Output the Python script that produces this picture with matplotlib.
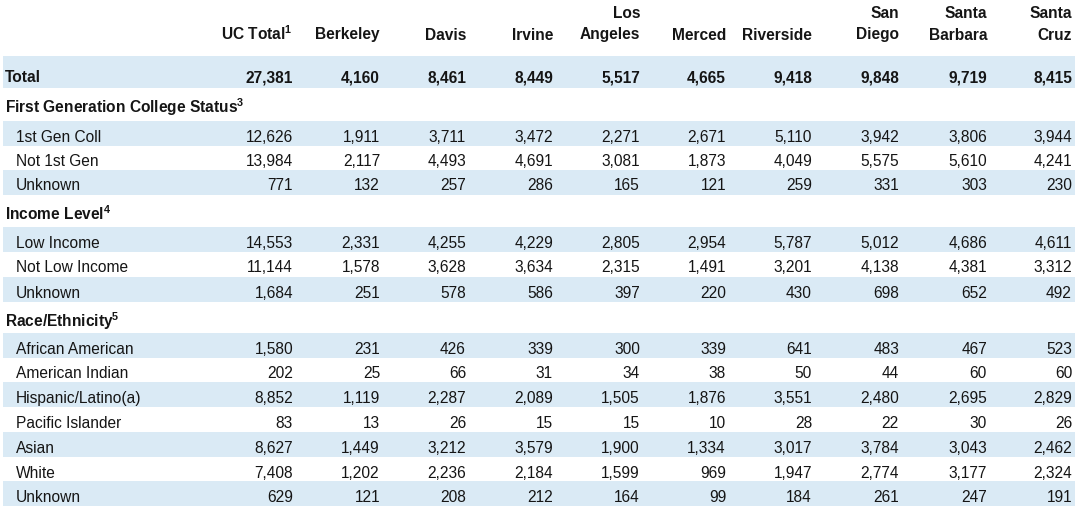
import matplotlib.pyplot as plt
from matplotlib.patches import Rectangle

plt.rcParams['font.family'] = ['Liberation Sans', 'DejaVu Sans']
plt.rcParams['mathtext.fontset'] = 'custom'
plt.rcParams['mathtext.rm'] = 'Liberation Sans'
plt.rcParams['mathtext.bf'] = 'Liberation Sans:bold'

# column headers (two lines each, first line may be empty)
campus_top = ['', '', '', '', 'Los', '', '', 'San', 'Santa', 'Santa']
campus_bottom = [r'UC Total$^{\mathbf{1}}$', 'Berkeley', 'Davis', 'Irvine', 'Angeles',
                 'Merced', 'Riverside', 'Diego', 'Barbara', 'Cruz']

total_row = [27381, 4160, 8461, 8449, 5517, 4665, 9418, 9848, 9719, 8415]

first_gen_title = r'First Generation College Status$^{\mathbf{3}}$'
first_gen_labels = ['1st Gen Coll', 'Not 1st Gen', 'Unknown']
first_gen = [
    [12626, 1911, 3711, 3472, 2271, 2671, 5110, 3942, 3806, 3944],
    [13984, 2117, 4493, 4691, 3081, 1873, 4049, 5575, 5610, 4241],
    [771, 132, 257, 286, 165, 121, 259, 331, 303, 230],
]

income_title = r'Income Level$^{\mathbf{4}}$'
income_labels = ['Low Income', 'Not Low Income', 'Unknown']
income = [
    [14553, 2331, 4255, 4229, 2805, 2954, 5787, 5012, 4686, 4611],
    [11144, 1578, 3628, 3634, 2315, 1491, 3201, 4138, 4381, 3312],
    [1684, 251, 578, 586, 397, 220, 430, 698, 652, 492],
]

race_title = r'Race/Ethnicity$^{\mathbf{5}}$'
race_labels = ['African American', 'American Indian', 'Hispanic/Latino(a)', 'Pacific Islander',
               'Asian', 'White', 'Unknown']
race = [
    [1580, 231, 426, 339, 300, 339, 641, 483, 467, 523],
    [202, 25, 66, 31, 34, 38, 50, 44, 60, 60],
    [8852, 1119, 2287, 2089, 1505, 1876, 3551, 2480, 2695, 2829],
    [83, 13, 26, 15, 15, 10, 28, 22, 30, 26],
    [8627, 1449, 3212, 3579, 1900, 1334, 3017, 3784, 3043, 2462],
    [7408, 1202, 2236, 2184, 1599, 969, 1947, 2774, 3177, 2324],
    [629, 121, 208, 212, 164, 99, 184, 261, 247, 191],
]

# layout (pixels)
W, H = 1080, 521
col_right = [293, 380, 466, 553, 640, 726, 812, 899, 987, 1072]
band_color = '#daeaf5'
ink = '#151515'
fs = 11.2
cap = 5.5  # half cap height, to set baselines

fig = plt.figure(figsize=(W / 100, H / 100), dpi=100)
ax = fig.add_axes([0, 0, 1, 1])
ax.set_xlim(0, W)
ax.set_ylim(H, 0)
ax.axis('off')


def band(y0, y1):
    ax.add_patch(Rectangle((3, y0), 1072, y1 - y0, color=band_color, lw=0, zorder=0))


def txt(x, yc, s, ha='left', bold=False):
    ax.text(x, yc + cap, s, ha=ha, va='baseline', fontsize=fs, color=ink,
            fontweight='bold' if bold else 'normal')


def data_row(yc, label, vals, shaded, bold=False, indent=16):
    if shaded:
        band(yc - 15.5, yc + 9.5)
    txt(indent, yc, label, bold=bold)
    for x, v in zip(col_right, vals):
        txt(x, yc, f'{v:,}', ha='right', bold=bold)


# header
for x, t, b in zip(col_right, campus_top, campus_bottom):
    if t:
        txt(x, 13, t, ha='right', bold=True)
    txt(x, 34, b, ha='right', bold=True)

# total row
band(56, 88)
txt(5, 77, 'Total', bold=True)
for x, v in zip(col_right, total_row):
    txt(x, 77, f'{v:,}', ha='right', bold=True)

# first generation
txt(5, 107, first_gen_title, bold=True)
for i, (lab, vals) in enumerate(zip(first_gen_labels, first_gen)):
    data_row(136 + 24.5 * i, lab, vals, i % 2 == 0)

# income
txt(5, 214, income_title, bold=True)
for i, (lab, vals) in enumerate(zip(income_labels, income)):
    data_row(242 + 25 * i, lab, vals, i % 2 == 0)

# race / ethnicity
txt(5, 321, race_title, bold=True)
for i, (lab, vals) in enumerate(zip(race_labels, race)):
    data_row(348 + 24.8 * i, lab, vals, i % 2 == 0)

fig.savefig('out.png', dpi=100, facecolor='white')
